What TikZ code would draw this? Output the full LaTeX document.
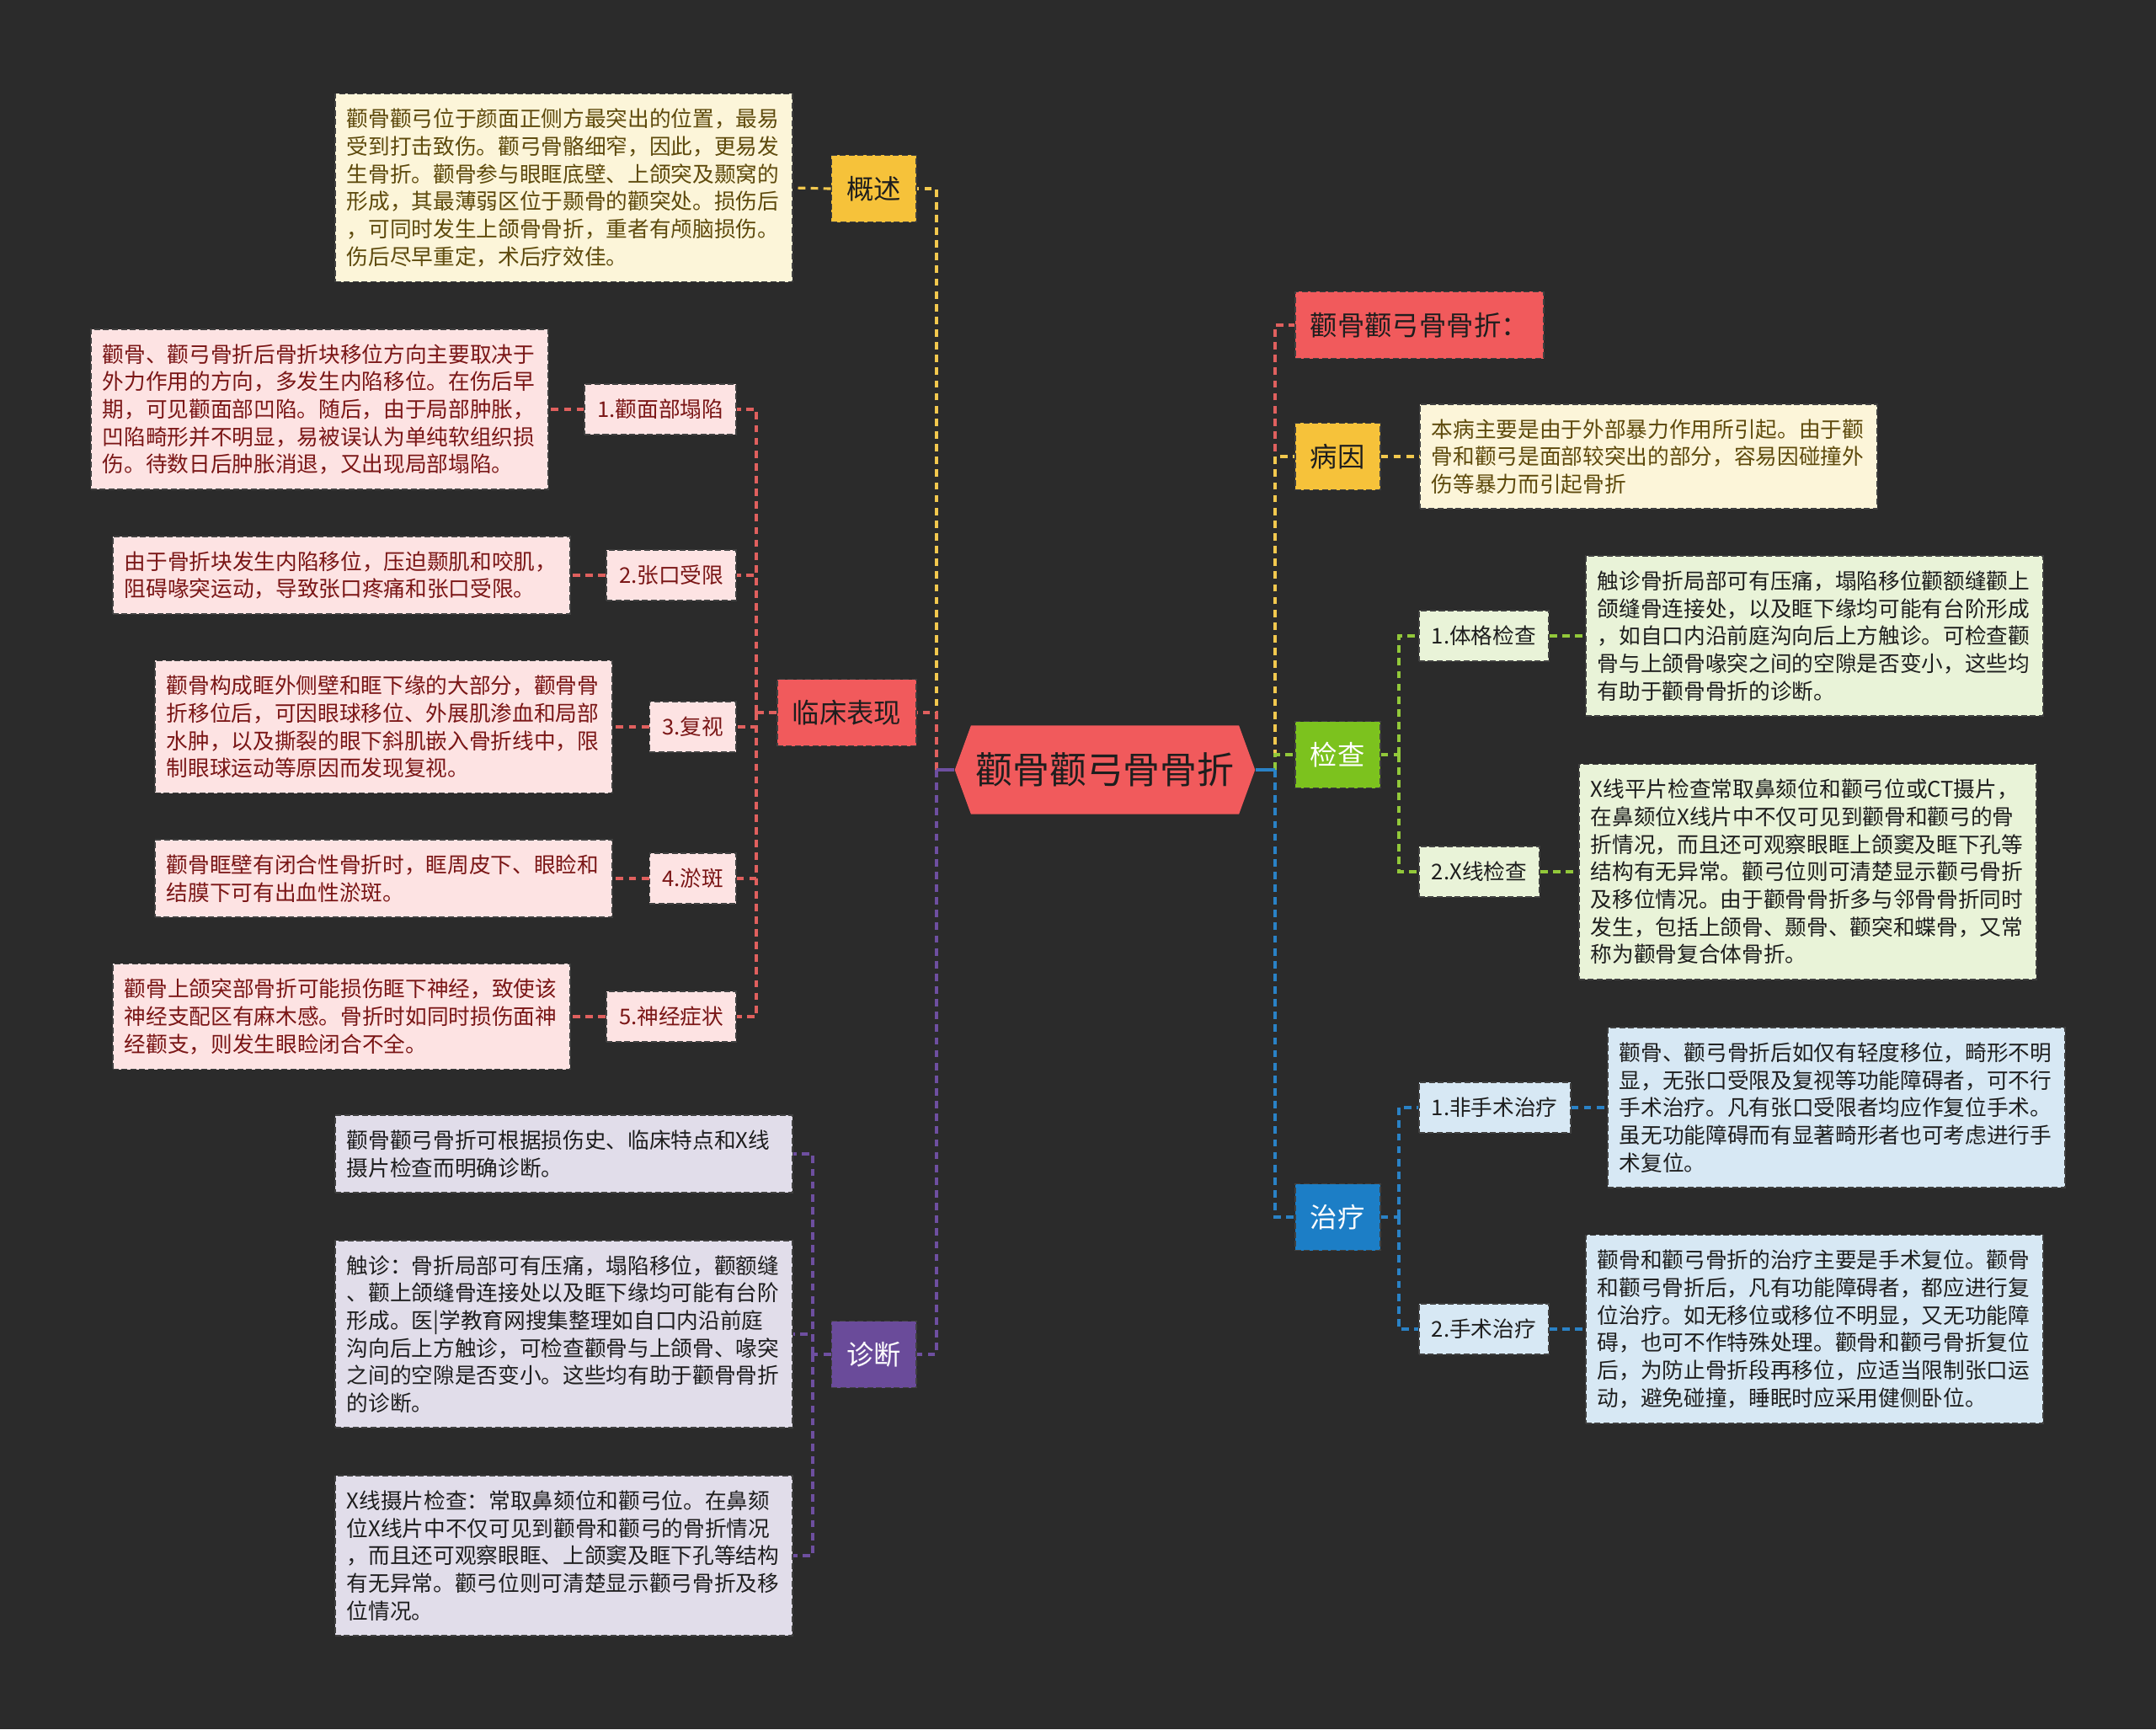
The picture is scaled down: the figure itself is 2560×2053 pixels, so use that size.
\documentclass[tikz,border=0pt]{standalone}
\usepackage{fontspec}
\setmainfont{Noto Sans CJK SC}
\usetikzlibrary{shapes.symbols, positioning}

\definecolor{bgdark}{HTML}{2B2B2B}
\definecolor{rootred}{HTML}{F15A5C}
\definecolor{topyellow}{HTML}{F6C23A}
\definecolor{topgreen}{HTML}{7CC21E}
\definecolor{topblue}{HTML}{1C7EC6}
\definecolor{toppurple}{HTML}{6A4B9A}
\definecolor{noteyellow}{HTML}{FCF5D9}
\definecolor{notepink}{HTML}{FDE3E3}
\definecolor{notelilac}{HTML}{E1DDEA}
\definecolor{notegreen}{HTML}{E9F3D8}
\definecolor{noteblue}{HTML}{D7E8F4}
\definecolor{txtbrown}{HTML}{5E4A0C}
\definecolor{txtred}{HTML}{7A1616}
\definecolor{txtdark}{HTML}{1E1E1E}
\definecolor{lnyellow}{HTML}{F2C84E}
\definecolor{lnred}{HTML}{E0605E}
\definecolor{lnpurple}{HTML}{6E4FA0}
\definecolor{lngreen}{HTML}{92C83A}
\definecolor{lnblue}{HTML}{2A82C6}

\begin{document}
\begin{tikzpicture}[x=0.01cm, y=-0.01cm,
    topic/.style={draw=black!75, dash pattern=on 2pt off 1pt, line width=0.5pt, fill=#1,
        minimum height=0.79cm, inner xsep=0.18cm, font=\fontsize{9.2}{11}\selectfont},
    sub/.style={draw=black!75, dash pattern=on 2pt off 1pt, line width=0.5pt, fill=#1,
        minimum height=0.6cm, inner xsep=0.15cm, font=\fontsize{7.3}{9}\selectfont},
    note/.style={draw=black!75, dash pattern=on 2pt off 1pt, line width=0.5pt, fill=#1,
        text width=5.15cm, align=left, inner xsep=0.14cm, inner ysep=5pt,
        font=\fontsize{7.3}{9.3}\selectfont},
    link/.style={draw=#1, line width=0.9pt, dash pattern=on 2.5pt off 1.8pt}]

    % Background
    \fill[bgdark] (0,0) rectangle (2560,2053);
    \useasboundingbox (0,0) rectangle (2560,2053);

    % Root
    \node[signal, signal to=west and east, signal pointer angle=140, fill=rootred,
        inner xsep=1.5pt, minimum height=1.05cm, text=txtdark,
        font=\fontsize{12.5}{14}\selectfont] (root) at (1312,914) {颧骨颧弓骨骨折};
    \coordinate (lt) at (1112,914);
    \coordinate (rt) at (1514,914);

    % Left topics
    \node[topic=topyellow, anchor=east, text=txtdark] (gaishu) at (1089,224) {概述};
    \node[topic=rootred, anchor=east, text=txtdark] (linchuang) at (1089,846) {临床表现};
    \node[topic=toppurple, anchor=east, text=white] (zhenduan) at (1089,1608) {诊断};

    % Overview note
    \node[note=noteyellow, anchor=east, text=txtbrown] (gsn) at (942,223) {颧骨颧弓位于颜面正侧方最突出的位置，最易\\受到打击致伤。颧弓骨骼细窄，因此，更易发\\生骨折。颧骨参与眼眶底壁、上颌突及颞窝的\\形成，其最薄弱区位于颞骨的颧突处。损伤后\\，可同时发生上颌骨骨折，重者有颅脑损伤。\\伤后尽早重定，术后疗效佳。};

    % Clinical signs
    \node[sub=notepink, anchor=east, text=txtred] (lc1) at (875,486) {1.颧面部塌陷};
    \node[sub=notepink, anchor=east, text=txtred] (lc2) at (875,683) {2.张口受限};
    \node[sub=notepink, anchor=east, text=txtred] (lc3) at (875,863) {3.复视};
    \node[sub=notepink, anchor=east, text=txtred] (lc4) at (875,1043) {4.淤斑};
    \node[sub=notepink, anchor=east, text=txtred] (lc5) at (875,1207) {5.神经症状};

    \node[note=notepink, anchor=east, text=txtred] (lc1n) at (652,486) {颧骨、颧弓骨折后骨折块移位方向主要取决于\\外力作用的方向，多发生内陷移位。在伤后早\\期，可见颧面部凹陷。随后，由于局部肿胀，\\凹陷畸形并不明显，易被误认为单纯软组织损\\伤。待数日后肿胀消退，又出现局部塌陷。};
    \node[note=notepink, anchor=east, text=txtred] (lc2n) at (678,683) {由于骨折块发生内陷移位，压迫颞肌和咬肌，\\阻碍喙突运动，导致张口疼痛和张口受限。};
    \node[note=notepink, anchor=east, text=txtred] (lc3n) at (728,863) {颧骨构成眶外侧壁和眶下缘的大部分，颧骨骨\\折移位后，可因眼球移位、外展肌渗血和局部\\水肿，以及撕裂的眼下斜肌嵌入骨折线中，限\\制眼球运动等原因而发现复视。};
    \node[note=notepink, anchor=east, text=txtred] (lc4n) at (728,1043) {颧骨眶壁有闭合性骨折时，眶周皮下、眼睑和\\结膜下可有出血性淤斑。};
    \node[note=notepink, anchor=east, text=txtred] (lc5n) at (678,1207) {颧骨上颌突部骨折可能损伤眶下神经，致使该\\神经支配区有麻木感。骨折时如同时损伤面神\\经颧支，则发生眼睑闭合不全。};

    % Diagnosis
    \node[note=notelilac, anchor=east, text=txtdark] (zd1) at (942,1370) {颧骨颧弓骨折可根据损伤史、临床特点和X线\\摄片检查而明确诊断。};
    \node[note=notelilac, anchor=east, text=txtdark] (zd2) at (942,1584) {触诊：骨折局部可有压痛，塌陷移位，颧额缝\\、颧上颌缝骨连接处以及眶下缘均可能有台阶\\形成。医|学教育网搜集整理如自口内沿前庭\\沟向后上方触诊，可检查颧骨与上颌骨、喙突\\之间的空隙是否变小。这些均有助于颧骨骨折\\的诊断。};
    \node[note=notelilac, anchor=east, text=txtdark] (zd3) at (942,1847) {X线摄片检查：常取鼻颏位和颧弓位。在鼻颏\\位X线片中不仅可见到颧骨和颧弓的骨折情况\\，而且还可观察眼眶、上颌窦及眶下孔等结构\\有无异常。颧弓位则可清楚显示颧弓骨折及移\\位情况。};

    % Right topics
    \node[topic=rootred, anchor=west, text=txtdark] (title) at (1537,386) {颧骨颧弓骨骨折：};
    \node[topic=topyellow, anchor=west, text=txtdark] (bingyin) at (1537,542) {病因};
    \node[topic=topgreen, anchor=west, text=white] (jiancha) at (1537,896) {检查};
    \node[topic=topblue, anchor=west, text=white] (zhiliao) at (1537,1445) {治疗};

    \node[note=noteyellow, anchor=west, text=txtbrown] (byn) at (1685,542) {本病主要是由于外部暴力作用所引起。由于颧\\骨和颧弓是面部较突出的部分，容易因碰撞外\\伤等暴力而引起骨折};

    % Examination
    \node[sub=notegreen, anchor=west, text=txtdark] (jc1) at (1684,755) {1.体格检查};
    \node[sub=notegreen, anchor=west, text=txtdark] (jc2) at (1684,1035) {2.X线检查};
    \node[note=notegreen, anchor=west, text=txtdark] (jc1n) at (1882,755) {触诊骨折局部可有压痛，塌陷移位颧额缝颧上\\颌缝骨连接处，以及眶下缘均可能有台阶形成\\，如自口内沿前庭沟向后上方触诊。可检查颧\\骨与上颌骨喙突之间的空隙是否变小，这些均\\有助于颧骨骨折的诊断。};
    \node[note=notegreen, anchor=west, text=txtdark] (jc2n) at (1874,1035) {X线平片检查常取鼻颏位和颧弓位或CT摄片，\\在鼻颏位X线片中不仅可见到颧骨和颧弓的骨\\折情况，而且还可观察眼眶上颌窦及眶下孔等\\结构有无异常。颧弓位则可清楚显示颧弓骨折\\及移位情况。由于颧骨骨折多与邻骨骨折同时\\发生，包括上颌骨、颞骨、颧突和蝶骨，又常\\称为颧骨复合体骨折。};

    % Treatment
    \node[sub=noteblue, anchor=west, text=txtdark] (zl1) at (1684,1315) {1.非手术治疗};
    \node[sub=noteblue, anchor=west, text=txtdark] (zl2) at (1684,1578) {2.手术治疗};
    \node[note=noteblue, anchor=west, text=txtdark] (zl1n) at (1908,1315) {颧骨、颧弓骨折后如仅有轻度移位，畸形不明\\显，无张口受限及复视等功能障碍者，可不行\\手术治疗。凡有张口受限者均应作复位手术。\\虽无功能障碍而有显著畸形者也可考虑进行手\\术复位。};
    \node[note=noteblue, anchor=west, text=txtdark] (zl2n) at (1882,1578) {颧骨和颧弓骨折的治疗主要是手术复位。颧骨\\和颧弓骨折后，凡有功能障碍者，都应进行复\\位治疗。如无移位或移位不明显，又无功能障\\碍，也可不作特殊处理。颧骨和颧弓骨折复位\\后，为防止骨折段再移位，应适当限制张口运\\动，避免碰撞，睡眠时应采用健侧卧位。};

    % Left connectors
    \draw[link=lnyellow] (lt) |- (gaishu.east);
    \draw[link=lnred] (lt) |- (linchuang.east);
    \draw[link=lnpurple] (lt) |- (zhenduan.east);
    \draw[lnpurple, line width=0.9pt] (root.west) -- (lt);
    \draw[link=lnyellow] (gaishu.west) -- (gsn.east);

    \coordinate (lcx) at (898,846);
    \draw[link=lnred] (linchuang.west) -- (lcx);
    \foreach \n in {lc1,lc2,lc3,lc4,lc5} {
        \draw[link=lnred] (lcx) |- (\n.east);
        \draw[link=lnred] (\n.west) -- (\n n.east);
    }

    \coordinate (zdx) at (965,1608);
    \draw[link=lnpurple] (zhenduan.west) -- (zdx);
    \foreach \n in {zd1,zd2,zd3}
        \draw[link=lnpurple] (zdx) |- (\n.east);

    % Right connectors
    \draw[link=lnred] (rt) |- (title.west);
    \draw[link=lnyellow] (rt) |- (bingyin.west);
    \draw[link=lngreen] (rt) |- (jiancha.west);
    \draw[link=lnblue] (rt) |- (zhiliao.west);
    \draw[lnblue, line width=0.9pt] (root.east) -- (rt);
    \draw[link=lnyellow] (bingyin.east) -- (byn.west);

    \coordinate (jcx) at (1661,896);
    \draw[link=lngreen] (jiancha.east) -- (jcx);
    \foreach \n in {jc1,jc2} {
        \draw[link=lngreen] (jcx) |- (\n.west);
        \draw[link=lngreen] (\n.east) -- (\n n.west);
    }

    \coordinate (zlx) at (1661,1445);
    \draw[link=lnblue] (zhiliao.east) -- (zlx);
    \foreach \n in {zl1,zl2} {
        \draw[link=lnblue] (zlx) |- (\n.west);
        \draw[link=lnblue] (\n.east) -- (\n n.west);
    }
\end{tikzpicture}
\end{document}
